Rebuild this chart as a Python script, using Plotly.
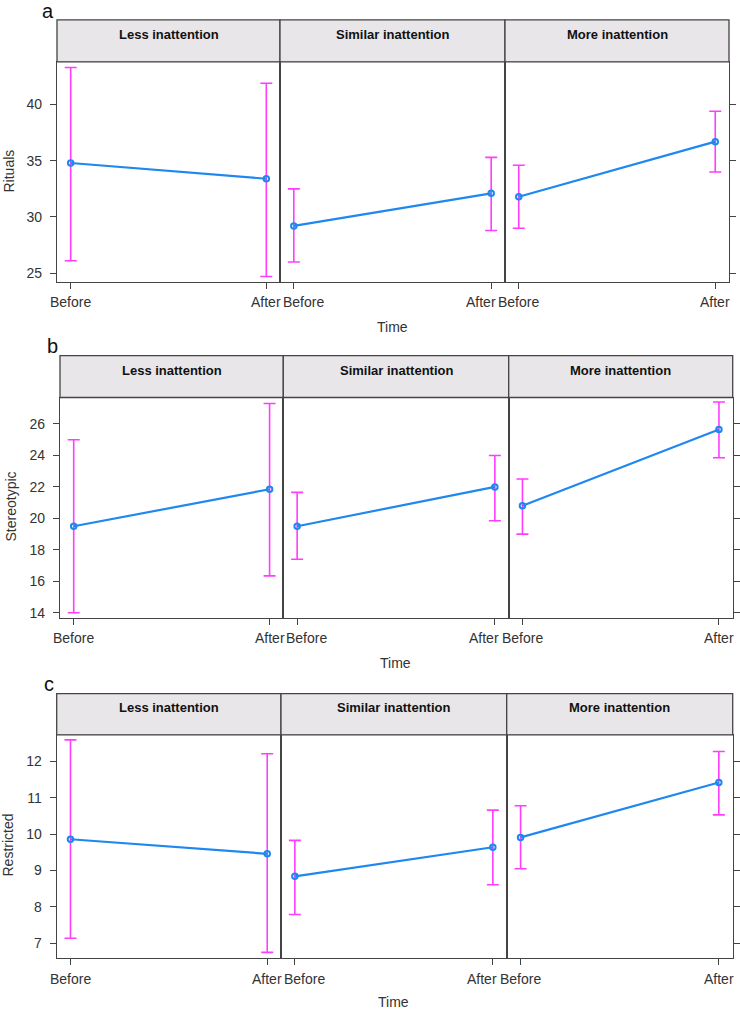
import plotly.graph_objects as go

W, H = 740, 1013

groups = ["Less inattention", "Similar inattention", "More inattention"]
times = ["Before", "After"]
panel_letters = ["a", "b", "c"]
outcomes = ["Rituals", "Stereotypic", "Restricted"]

rituals_mean = [[34.8, 33.4], [29.2, 32.1], [31.8, 36.7]]
rituals_lo = [[26.1, 24.7], [26.0, 28.8], [29.0, 34.0]]
rituals_hi = [[43.3, 41.9], [32.5, 35.3], [34.6, 39.4]]

stereo_mean = [[19.5, 21.85], [19.5, 22.0], [20.8, 25.65]]
stereo_lo = [[14.0, 16.35], [17.4, 19.85], [19.0, 23.85]]
stereo_hi = [[25.0, 27.3], [21.65, 24.0], [22.5, 27.4]]

restr_mean = [[9.86, 9.46], [8.84, 9.64], [9.91, 11.42]]
restr_lo = [[7.14, 6.75], [7.79, 8.61], [9.05, 10.53]]
restr_hi = [[12.59, 12.21], [9.83, 10.66], [10.78, 12.27]]

y_ticks = [[25, 30, 35, 40], [14, 16, 18, 20, 22, 24, 26], [7, 8, 9, 10, 11, 12]]
y_ranges = [[24.2, 43.8], [13.66, 27.68], [6.6, 12.73]]

data = [
    (rituals_mean, rituals_lo, rituals_hi),
    (stereo_mean, stereo_lo, stereo_hi),
    (restr_mean, restr_lo, restr_hi),
]

# layout geometry in pixels (layout only)
rows_geom = [
    dict(xs=[57, 280, 505, 729], strip_top=20, plot_top=62, plot_bot=283,
         strip_text=35, letter=(47.5, 11), ytitle=(9, 172), time=(392, 328), tlab=303),
    dict(xs=[60, 283.3, 508.7, 732.7], strip_top=356.7, plot_top=398.7, plot_bot=620,
         strip_text=371.7, letter=(52, 347), ytitle=(11, 508), time=(395, 665), tlab=640),
    dict(xs=[56.7, 281, 506.7, 732.7], strip_top=695.7, plot_top=737, plot_bot=960.7,
         strip_text=710, letter=(49, 686), ytitle=(8, 848), time=(393, 1005), tlab=981.5),
]
label_shift = [[0, 0], [9.5, -10.5], [0, 0]]

def px(x):
    return x / W

def py(y):
    return 1 - y / H

fig = go.Figure()
layout = dict(width=W, height=H, margin=dict(l=0, r=0, t=0, b=0),
              paper_bgcolor="white", plot_bgcolor="white", showlegend=False)
shapes = []
annotations = []

FONT = "Liberation Sans, Arial, sans-serif"
AXC = "#444444"
TXT = "#333333"

idx = 0
for r in range(3):
    g = rows_geom[r]
    means, los, his = data[r]
    for c in range(3):
        idx += 1
        xa = "x" if idx == 1 else f"x{idx}"
        ya = "y" if idx == 1 else f"y{idx}"
        xkey = "xaxis" if idx == 1 else f"xaxis{idx}"
        ykey = "yaxis" if idx == 1 else f"yaxis{idx}"
        x0, x1 = g["xs"][c], g["xs"][c + 1]
        m = means[c]
        lo = los[c]
        hi = his[c]
        fig.add_trace(go.Scatter(
            x=times, y=m, xaxis=xa, yaxis=ya, mode="markers",
            marker=dict(size=1, color="rgba(0,0,0,0)"),
            error_y=dict(type="data", symmetric=False,
                         array=[h - v for h, v in zip(hi, m)],
                         arrayminus=[v - l for v, l in zip(m, lo)],
                         color="#FF3CFF", thickness=1.6, width=6),
            hoverinfo="skip"))
        fig.add_trace(go.Scatter(
            x=times, y=m, xaxis=xa, yaxis=ya, mode="lines+markers",
            line=dict(color="#1E88F0", width=2.2),
            marker=dict(symbol="circle-open", size=5.5, color="#1E88F0",
                        line=dict(width=2, color="#1E88F0"))))
        layout[xkey] = dict(
            domain=[px(x0), px(x1)], anchor=ya, type="category",
            categoryorder="array", categoryarray=times,
            range=[-0.07, 1.07], showgrid=False, zeroline=False,
            showline=True, linecolor=AXC, linewidth=1.3, mirror=True,
            ticks="outside", ticklen=6, tickcolor=AXC, tickwidth=1,
            showticklabels=False)
        for k, t in enumerate(times):
            annotations.append(dict(xref=xa, yref="paper", x=k, y=py(g["tlab"]),
                                    xshift=label_shift[c][k], text=t, showarrow=False,
                                    xanchor="center", yanchor="middle",
                                    font=dict(family=FONT, size=14, color=TXT)))
        yax = dict(
            domain=[py(g["plot_bot"]), py(g["plot_top"])], anchor=xa,
            range=y_ranges[r], tickvals=y_ticks[r], showgrid=False,
            zeroline=False, showline=True, linecolor=AXC, linewidth=1.3,
            mirror=True, tickcolor=AXC, tickwidth=1, ticklen=6,
            tickfont=dict(family=FONT, size=14, color=TXT))
        if c == 0:
            yax.update(ticks="outside", showticklabels=True, side="left",
                       ticklabelstandoff=5)
        elif c == 2:
            yax.update(ticks="outside", showticklabels=False, side="right")
        else:
            yax.update(ticks="", showticklabels=False)
        layout[ykey] = yax
        # strip
        shapes.append(dict(type="rect", xref="paper", yref="paper",
                           x0=px(x0), x1=px(x1), y0=py(g["plot_top"]), y1=py(g["strip_top"]),
                           fillcolor="#E8E6E8", line=dict(color=AXC, width=1.3)))
        annotations.append(dict(xref="paper", yref="paper", x=px((x0 + x1) / 2),
                                y=py(g["strip_text"]), text=f"<b>{groups[c]}</b>",
                                showarrow=False, xanchor="center", yanchor="middle",
                                font=dict(family=FONT, size=13, color="#111111")))
    annotations.append(dict(xref="paper", yref="paper", x=px(g["letter"][0]), y=py(g["letter"][1]),
                            text=panel_letters[r], showarrow=False, xanchor="center", yanchor="middle",
                            font=dict(family=FONT, size=20, color="#111111")))
    annotations.append(dict(xref="paper", yref="paper", x=px(g["ytitle"][0]), y=py(g["ytitle"][1]),
                            text=outcomes[r], showarrow=False, textangle=-90,
                            xanchor="center", yanchor="middle",
                            font=dict(family=FONT, size=14, color=TXT)))
    annotations.append(dict(xref="paper", yref="paper", x=px(g["time"][0]), y=py(g["time"][1]),
                            text="Time", showarrow=False, xanchor="center", yanchor="middle",
                            font=dict(family=FONT, size=14, color=TXT)))

layout["shapes"] = shapes
layout["annotations"] = annotations
fig.update_layout(**layout)
fig.write_html("out.html", config={"displayModeBar": False},
               post_script="document.body.style.margin='0px';document.body.style.overflow='hidden';")
